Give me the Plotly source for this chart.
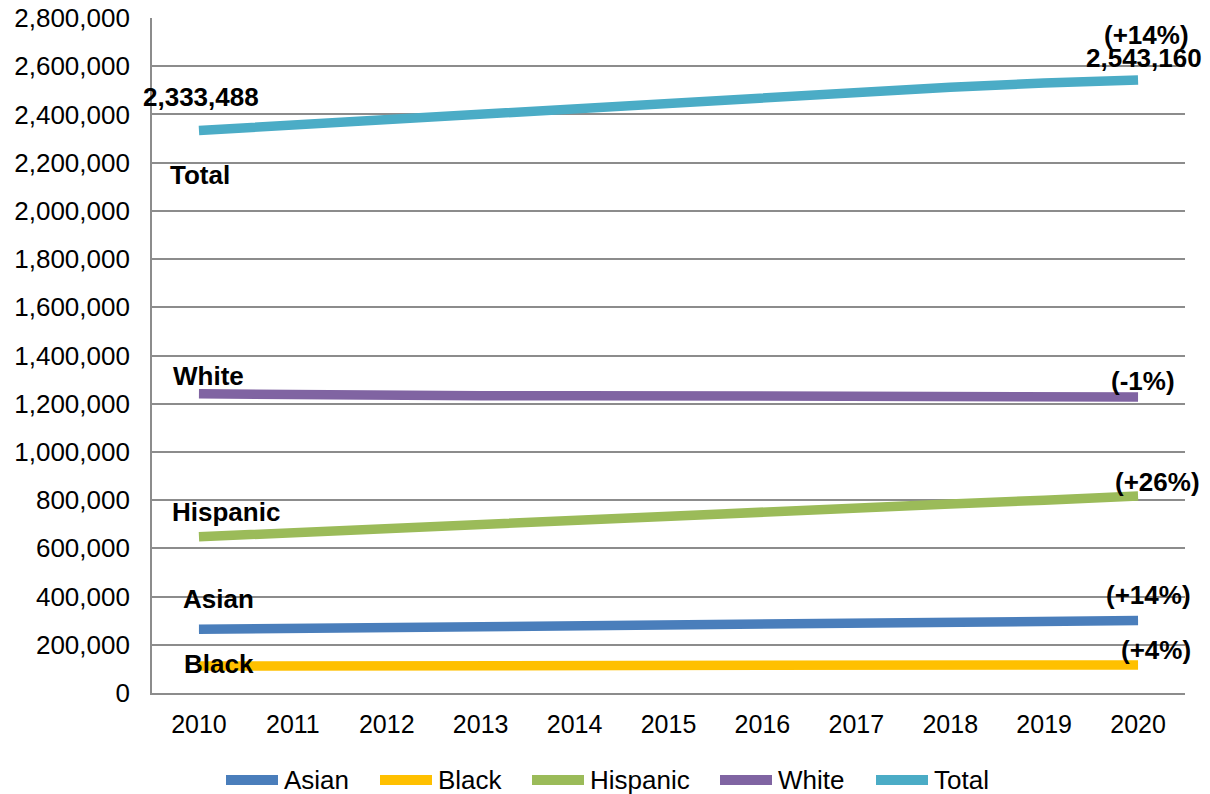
import plotly.graph_objects as go

years = ["2010", "2011", "2012", "2013", "2014", "2015", "2016", "2017", "2018", "2019", "2020"]
asian = [264000, 268000, 272000, 276000, 280000, 284000, 288000, 291000, 294000, 297000, 300500]
black = [112000, 112500, 113000, 113500, 114000, 114500, 115000, 115500, 116000, 116300, 116500]
hispanic = [648000, 666000, 684000, 702000, 719000, 736000, 752000, 768000, 784000, 800000, 817000]
white = [1241000, 1236000, 1233000, 1233000, 1233500, 1234000, 1233500, 1233000, 1232000, 1230000, 1228000]
total = [2333488, 2356000, 2380000, 2405000, 2430000, 2455000, 2475000, 2495000, 2513000, 2530000, 2543160]
y_ticks = [0, 200000, 400000, 600000, 800000, 1000000, 1200000, 1400000,
           1600000, 1800000, 2000000, 2200000, 2400000, 2600000, 2800000]

series_names = ["Asian", "Black", "Hispanic", "White", "Total"]
series_values = [asian, black, hispanic, white, total]
series_colors = ["#4a7ebb", "#ffc000", "#9bbb59", "#8064a2", "#4bacc6"]

FONT = "Liberation Sans, Arial, sans-serif"

fig = go.Figure()
for name, vals, color in zip(series_names, series_values, series_colors):
    fig.add_trace(go.Scatter(x=years, y=vals, name=name, mode="lines",
                             line=dict(color=color, width=9.5), showlegend=False))

bold = dict(family=FONT, size=26, color="#000000")
last = len(years) - 1
ann = [
    # (category index, value, text, xshift, yshift)
    (0, total[0], "<b>2,333,488</b>", 2, 33),
    (0, total[0], "<b>Total</b>", 1, -45),
    (last, total[-1], "<b>(+14%)</b>", 8, 45),
    (last, total[-1], "<b>2,543,160</b>", 6, 22),
    (0, white[0], "<b>White</b>", 10, 18),
    (last, white[-1], "<b>(-1%)</b>", 5, 16),
    (0, hispanic[0], "<b>Hispanic</b>", 27, 25),
    (last, hispanic[-1], "<b>(+26%)</b>", 19, 14),
    (0, asian[0], "<b>Asian</b>", 20, 30),
    (last, asian[-1], "<b>(+14%)</b>", 10, 26),
    (0, black[0], "<b>Black</b>", 20, 2),
    (last, black[-1], "<b>(+4%)</b>", 18, 15),
]
for xi, y, t, xs, ys in ann:
    fig.add_annotation(x=xi, y=y, text=t, showarrow=False, xshift=xs, yshift=ys,
                       font=bold, xref="x", yref="y")

W, H = 1210, 794
L, T = 152, 18
pw, ph = 1033, 675
R = W - L - pw
B = H - T - ph

def px_x(p):  # page pixel -> paper x
    return (p - L) / pw
def px_y(p):  # page pixel -> paper y
    return (T + ph - p) / ph

legend_starts = [222, 376, 528, 716, 872]
ly = 780
for name, color, x0 in zip(series_names, series_colors, legend_starts):
    fig.add_shape(type="line", xref="paper", yref="paper",
                  x0=px_x(x0 + 4), x1=px_x(x0 + 56), y0=px_y(ly), y1=px_y(ly),
                  line=dict(color=color, width=10))
    fig.add_annotation(xref="paper", yref="paper", x=px_x(x0 + 60), y=px_y(ly),
                       xanchor="left", yanchor="middle", text=name, showarrow=False,
                       font=dict(family=FONT, size=26, color="#000000"))

fig.update_layout(
    width=W, height=H,
    margin=dict(l=L, r=R, t=T, b=B, autoexpand=False),
    plot_bgcolor="white", paper_bgcolor="white",
    font=dict(family=FONT, color="#000000"),
    showlegend=False,
    xaxis=dict(type="category", range=[-0.5, 10.5], showgrid=False, automargin=False,
               showline=True, linecolor="#8c8c8c", linewidth=1.7,
               ticks="", tickfont=dict(family=FONT, size=25),
               ticklabelstandoff=8),
    yaxis=dict(range=[0, 2800000], tickmode="array", tickvals=y_ticks,
               ticktext=[f"{v:,}" for v in y_ticks], automargin=False,
               showgrid=True, gridcolor="#8c8c8c", gridwidth=1.7,
               showline=True, linecolor="#8c8c8c", linewidth=1.7,
               zeroline=False, ticks="",
               tickfont=dict(family=FONT, size=26),
               ticklabelstandoff=15),
)

fig.write_html("out.html", config={"displayModeBar": False},
               post_script="document.body.style.margin='0';document.body.style.overflow='hidden';")
